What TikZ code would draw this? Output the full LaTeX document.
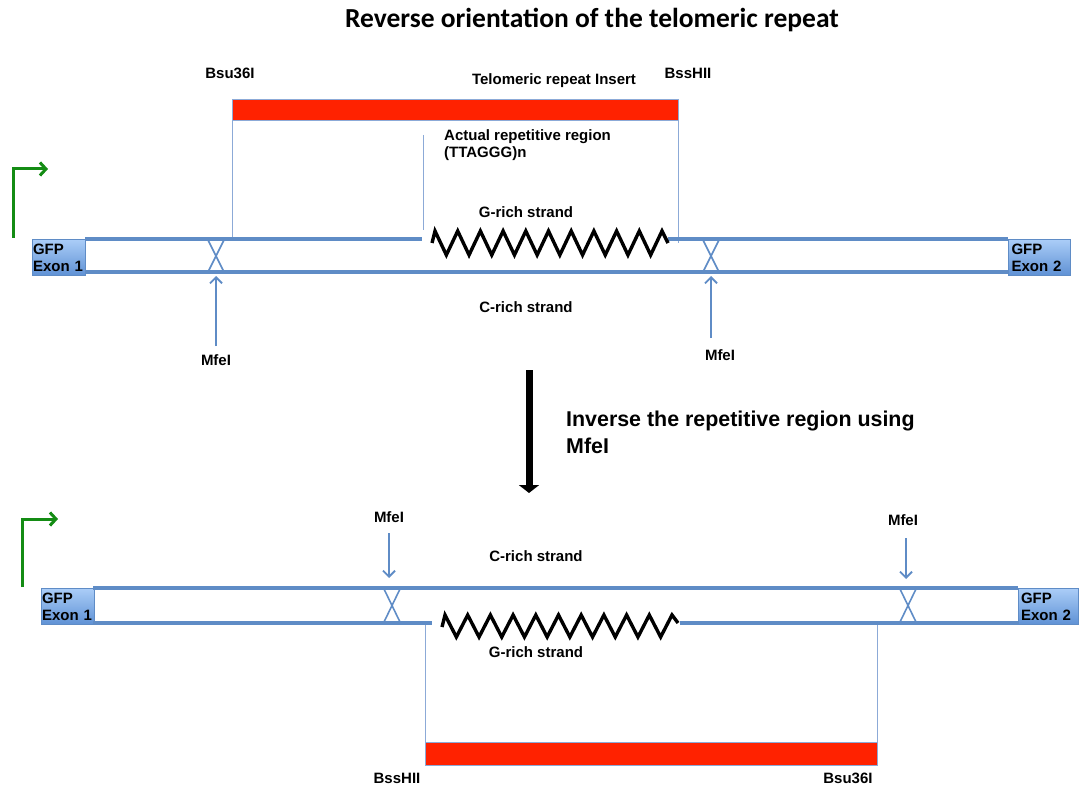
\documentclass[tikz,border=0pt]{standalone}
\usepackage{fontspec}
\setmainfont{Liberation Sans}
\newfontfamily\titlefont{Carlito}
\usetikzlibrary{arrows.meta}
\definecolor{strandblue}{RGB}{95,140,198}
\definecolor{thinblue}{RGB}{140,170,215}
\definecolor{insertred}{RGB}{255,34,0}
\definecolor{promgreen}{RGB}{20,140,20}
\definecolor{gfptop}{RGB}{170,205,248}
\definecolor{gfpbot}{RGB}{95,145,212}
\tikzset{
  lbl/.style={font=\fontsize{15}{17}\selectfont\bfseries, inner sep=0pt},
  strandline/.style={draw=strandblue, line width=3.2pt},
  xmark/.style={draw=strandblue, line width=1.6pt},
  thinline/.style={draw=thinblue, line width=1pt},
  zig/.style={draw=black, line width=3.4pt, line join=miter},
  redbar/.style={fill=insertred, draw=thinblue, line width=0.8pt},
  gfp/.style={top color=gfptop, bottom color=gfpbot, draw=strandblue, line width=1pt,
    font=\fontsize{15}{17}\selectfont\bfseries, align=left, inner sep=0.5pt, text width=52pt,
    anchor=north west},
  prom/.style={draw=promgreen, line width=3pt, -{Straight Barb[length=6pt,width=13pt]}},
  cut/.style={draw=strandblue, line width=1.9pt, -{Straight Barb[length=6pt,width=12pt]}},
}
\begin{document}
\begin{tikzpicture}[x=1pt,y=-1pt]
\path[use as bounding box] (0,0) rectangle (1080,789);

% title
\node[font=\titlefont\fontsize{27.5}{30}\selectfont\bfseries, inner sep=0pt] (title) at (592,20) {Reverse orientation of the telomeric repeat};

% ---------------- top construct ----------------
\node[lbl] (bsu1) at (230,73) {Bsu36I};
\node[lbl] (bss1) at (688,73) {BssHII};
\node[lbl] (ins1) at (554,81) {Telomeric repeat Insert};
\filldraw[redbar] (232,99) rectangle (678,120);
\coordinate (r1l) at (232,120);
\coordinate (r1r) at (678,120);
\draw[thinline] (r1l) -- (232,238);
\draw[thinline] (r1r) -- (678,243);
\draw[thinline] (423,135) -- (423,230);
\node[lbl, align=left, anchor=north west] (act) at (444,129) {Actual repetitive region\\(TTAGGG)n};
\node[lbl] (g1) at (526,212) {G-rich strand};
\node[lbl] (c1) at (526,307) {C-rich strand};

\node[gfp, minimum width=53pt, minimum height=36pt] (e11) at (32,239) {GFP\\Exon 1};
\node[gfp, minimum width=62pt, minimum height=36pt, text width=56pt] (e12) at (1008,239) {GFP\\Exon 2};
\draw[strandline] (85,239) -- (422,239);
\draw[strandline] (668,239) -- (1008,239);
\draw[strandline] (85,272) -- (1008,272);
\draw[xmark] (208,240) -- (224,272) (224,240) -- (208,272);
\draw[xmark] (703,240) -- (719,272) (719,240) -- (703,272);
\draw[zig] (432,243) -- (435,231)
  \foreach \i in {0,...,9} { -- ({446.35+22.7*\i},255) -- ({457.7+22.7*\i},231) }
  -- (668,243);

\node[lbl] (m11) at (216,360) {MfeI};
\node[lbl] (m12) at (720,355) {MfeI};
\coordinate (m11s) at (216,346);
\coordinate (m11e) at (216,276);
\coordinate (m12s) at (711,338);
\coordinate (m12e) at (711,276);
\draw[cut] (m11s) -- (m11e);
\draw[cut] (m12s) -- (m12e);

\draw[prom] (13,238) -- (13,169) -- (48,169);

% ---------------- middle arrow ----------------
\coordinate (bas) at (529,370);
\coordinate (bae) at (529,493);
\draw[line width=7pt, -{Triangle[length=8pt,width=20pt]}] (bas) -- (bae);
\node[font=\fontsize{21.4}{27}\selectfont\bfseries, align=left, anchor=north west, inner sep=0pt] (inv) at (566,411) {Inverse the repetitive region using\\MfeI};

% ---------------- bottom construct ----------------
\node[lbl] (m21) at (389,517) {MfeI};
\node[lbl] (m22) at (903,520) {MfeI};
\coordinate (m21s) at (389,533);
\coordinate (m21e) at (389,578);
\coordinate (m22s) at (906,538);
\coordinate (m22e) at (906,579);
\draw[cut] (m21s) -- (m21e);
\draw[cut] (m22s) -- (m22e);
\node[lbl] (c2) at (536,556) {C-rich strand};
\node[lbl] (g2) at (536,652) {G-rich strand};

\node[gfp, minimum width=52pt, minimum height=36pt] (e21) at (41,588) {GFP\\Exon 1};
\node[gfp, minimum width=60pt, minimum height=36pt, text width=55pt] (e22) at (1018,588) {GFP\\Exon 2};
\draw[strandline] (93,588) -- (1018,588);
\draw[strandline] (93,623) -- (432,623);
\draw[strandline] (680,623) -- (1018,623);
\draw[xmark] (384,589) -- (400,622) (400,589) -- (384,622);
\draw[xmark] (900,589) -- (916,622) (916,589) -- (900,622);
\draw[zig] (442,627) -- (445,615)
  \foreach \i in {0,...,9} { -- ({456.35+22.7*\i},637) -- ({467.7+22.7*\i},615) }
  -- (678,623);

\draw[thinline] (425,625) -- (425,742);
\draw[thinline] (877,625) -- (877,742);
\filldraw[redbar] (425,742) rectangle (877,765);
\node[lbl] (bss2) at (397,778) {BssHII};
\node[lbl] (bsu2) at (848,778) {Bsu36I};

\draw[prom] (22,587) -- (22,519) -- (58,519);
\end{tikzpicture}
\end{document}
